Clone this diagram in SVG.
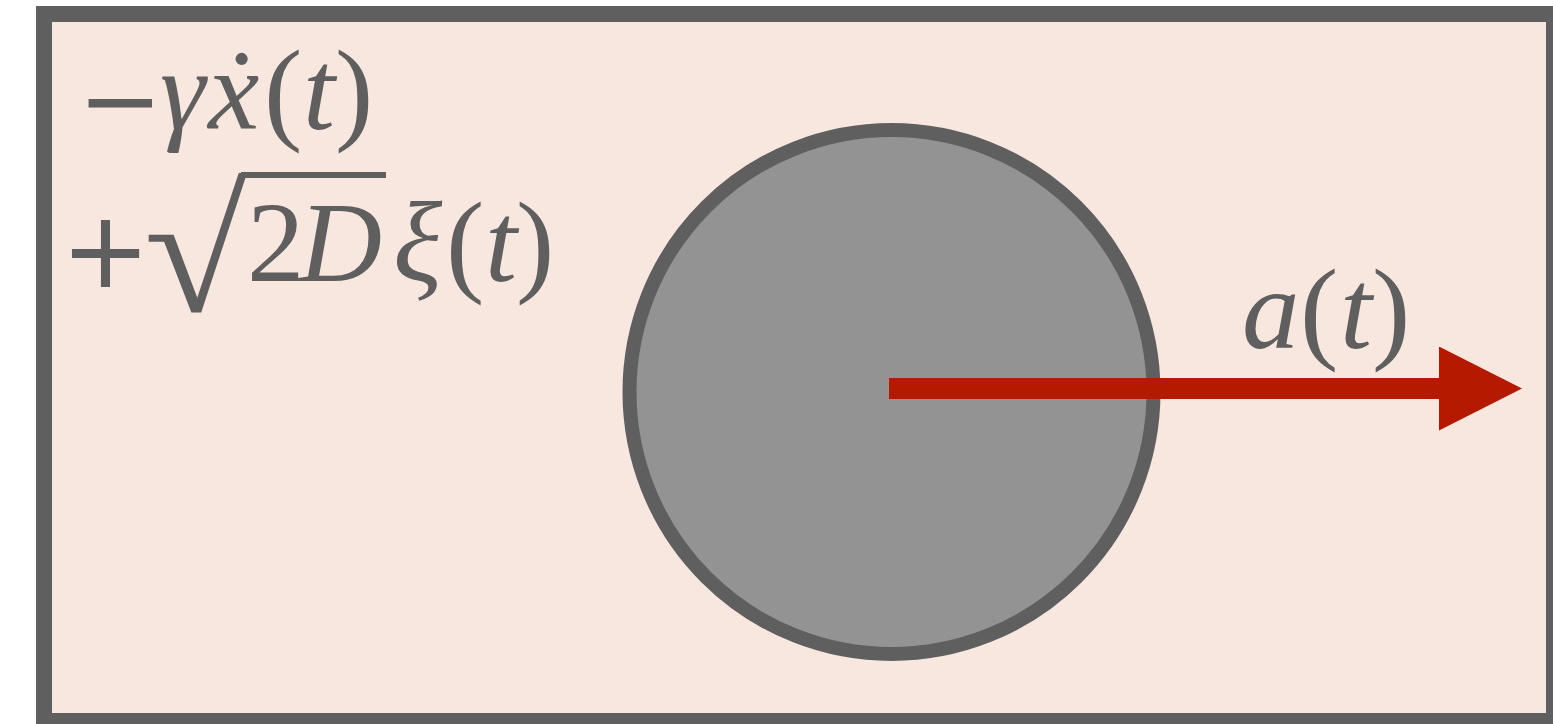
<svg xmlns="http://www.w3.org/2000/svg" width="1553" height="724" viewBox="0 0 1553 724">
<style>
.m{font-family:"Liberation Serif","Times New Roman",serif;font-size:115px;fill:#5f5f5f}
.i{font-style:italic}
.op{font-size:140px;stroke:#5f5f5f;stroke-width:2}
</style>
<defs>
<marker id="ah" markerUnits="userSpaceOnUse" markerWidth="84" markerHeight="84" refX="0" refY="42" orient="auto" viewBox="0 0 84 84">
<path d="M0,0 L83,42 L0,84 Z" fill="#b51900"/>
</marker>
</defs>
<rect width="1553" height="724" fill="#ffffff"/>
<g id="box">
<rect x="44" y="14" width="1510" height="707" fill="#f8e7de" stroke="#5f5f5f" stroke-width="16"/>
</g>
<g id="particle">
<circle cx="891.5" cy="392" r="262" fill="#939393" stroke="#5f5f5f" stroke-width="14"/>
</g>
<g id="connectors">
<line x1="889" y1="388.5" x2="1439" y2="388.5" stroke="#b51900" stroke-width="21" marker-end="url(#ah)"/>
</g>
<g id="label-force">
<text class="m op" x="83" y="147" style="font-size:132px">−</text>
<text class="m" y="129"><tspan class="i" x="160">γ</tspan><tspan class="i" x="208">ẋ</tspan><tspan x="264">(</tspan><tspan class="i" x="303">t</tspan><tspan x="335">)</tspan></text>
<text class="m op" x="66" y="300">+</text>
<text class="m" transform="translate(144,311) scale(1.635,1.52)">√</text>
<line x1="241" y1="175" x2="386" y2="175" stroke="#5f5f5f" stroke-width="6"/>
<text class="m" y="281"><tspan x="247">2</tspan><tspan class="i" x="299">D</tspan><tspan class="i" x="393">ξ</tspan><tspan x="446">(</tspan><tspan class="i" x="485">t</tspan><tspan x="516">)</tspan></text>
</g>
<g id="label-a">
<text class="m" y="348"><tspan class="i" x="1242">a</tspan><tspan x="1300">(</tspan><tspan class="i" x="1340">t</tspan><tspan x="1372">)</tspan></text>
</g>
</svg>
